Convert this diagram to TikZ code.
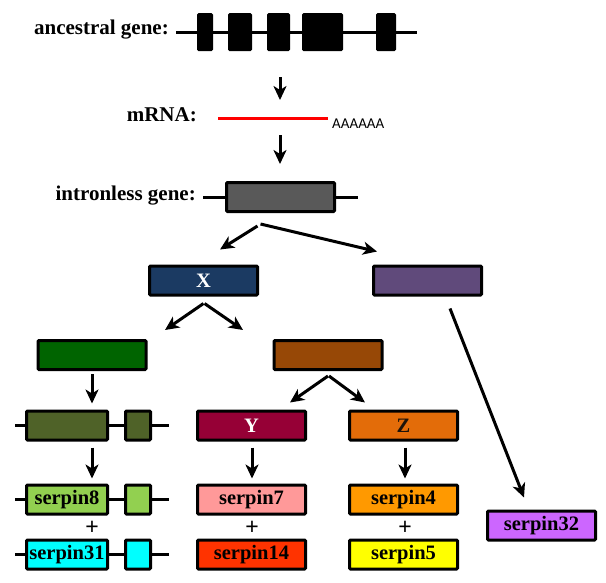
\documentclass[tikz,border=0pt]{standalone}
\usepackage{fontspec}
\setmainfont{Liberation Serif}
\newfontfamily\tailfont{Carlito}
\newfontfamily\plusfont{Liberation Sans}
\usetikzlibrary{arrows.meta,calc}

\definecolor{geneGray}{HTML}{595959}
\definecolor{xBlue}{HTML}{1B3A62}
\definecolor{purpleBox}{HTML}{604A7B}
\definecolor{greenBox}{HTML}{006400}
\definecolor{brownBox}{HTML}{974806}
\definecolor{oliveBox}{HTML}{4F6228}
\definecolor{yRed}{HTML}{960036}
\definecolor{zOrange}{HTML}{E36C09}
\definecolor{sEight}{HTML}{92D050}
\definecolor{sThirtyOne}{HTML}{00FFFF}
\definecolor{sSeven}{HTML}{FF9999}
\definecolor{sFour}{HTML}{FF9900}
\definecolor{sFourteen}{HTML}{FF3300}
\definecolor{sFive}{HTML}{FFFF00}
\definecolor{sThirtyTwo}{HTML}{CC66FF}

\begin{document}
\begin{tikzpicture}[x=1pt, y=-1pt,
  gbox/.style={draw=black, line width=3pt, rounded corners=1pt,
    minimum width=108pt, minimum height=29pt, inner sep=0pt,
    font=\bfseries\fontsize{20.5}{20.5}\selectfont},
  exon/.style={fill=black, rounded corners=1.5pt, minimum height=38pt, inner sep=0pt},
  strand/.style={line width=3pt},
  arr/.style={line width=3pt, -{Stealth[length=14pt,width=13pt,inset=4pt]}},
  lbl/.style={font=\bfseries\fontsize{21}{21}\selectfont, inner sep=0pt},
  plus/.style={font=\plusfont\fontsize{23}{23}\selectfont, inner sep=0pt}]
  \useasboundingbox (0,0) rectangle (606,582);

  % Rows (y of box centres)
  \def\rowX{280.5}
  \def\rowB{355}
  \def\rowC{425.5}
  \def\rowD{499.5}
  \def\rowE{554.5}

  % Ancestral gene with five exons
  \coordinate (ancL) at (176,32);
  \coordinate (ancR) at (417,32);
  \draw[strand] (ancL) -- (ancR);
  \foreach \n/\x/\w in {1/205/16, 2/240/24, 3/278.5/23, 4/322.5/41, 5/386/20}
    \node[exon, minimum width=\w pt] (ex\n) at (\x,32) {};
  \node[lbl, anchor=mid east] (ancT) at (169,32) {ancestral gene:};

  % mRNA
  \coordinate (mrnaL) at (218,118);
  \coordinate (mrnaR) at (328,118);
  \draw[red, line width=3pt] (mrnaL) -- (mrnaR);
  \node[lbl, anchor=mid east] (mrnaT) at (197,119) {mRNA:};
  \node[font=\tailfont\fontsize{15}{15}\selectfont, anchor=west, inner sep=0pt] (polyA) at (332,124) {AAAAAA};

  % Intronless gene
  \coordinate (intL) at (203,197.5);
  \coordinate (intR) at (358,197.5);
  \draw[strand] (intL) -- (intR);
  \node[gbox, fill=geneGray] (intr) at (280.5,197) {};
  \node[lbl, anchor=mid east] (intrT) at (196,198) {intronless gene:};

  \draw[arr] (280,77) coordinate (a1) -- (280,100) coordinate (a1e);
  \draw[arr] (280,135) coordinate (a2) -- (280,164) coordinate (a2e);

  % X and the purple copy
  \node[gbox, fill=xBlue, text=white] (X) at (203.5,\rowX) {X};
  \node[gbox, fill=purpleBox] (purp) at (427.5,\rowX) {};
  \draw[arr] ($(intr.south)+(-23,13)$) -- ($(X.north)+(16.5,-15)$);
  \draw[arr] ($(intr.south)+(-20,11)$) -- ($(purp.north)+(-50.5,-13)$);

  % green and brown
  \node[gbox, fill=greenBox] (green) at (92,\rowB) {};
  \node[gbox, fill=brownBox] (brown) at (328,\rowB) {};
  \draw[arr] ($(X.south)+(0,7)$) -- ($(green.north)+(73,-9)$);
  \draw[arr] ($(X.south)+(1,7)$) -- ($(brown.north)+(-85,-9)$);

  % gene with intron
  \coordinate (olL) at (15,425.5);
  \coordinate (olR) at (169,425.5);
  \draw[strand] (olL) -- (olR);
  \node[gbox, fill=oliveBox, minimum width=81pt] (ol1) at (67,\rowC) {};
  \node[gbox, fill=oliveBox, minimum width=25pt] (ol2) at (138,\rowC) {};
  \draw[arr] ($(green.south)+(0,3)$) -- ($(ol1.north -| green.south)+(0,-6)$);

  % Y and Z
  \node[gbox, fill=yRed, text=white] (Y) at (251.5,\rowC) {Y};
  \node[gbox, fill=zOrange, text=black!85!brown] (Z) at (403.5,\rowC) {Z};
  \draw[arr] ($(brown.south)+(0,5)$) -- ($(Y.north)+(38.5,-7)$);
  \draw[arr] ($(brown.south)+(1,5)$) -- ($(Z.north)+(-38.5,-7)$);

  % serpin8 / serpin31 genes
  \foreach \nm/\y/\c/\t in {s8/\rowD/sEight/serpin8, s31/\rowE/sThirtyOne/serpin31} {
    \coordinate (\nm L) at (15,\y);
    \coordinate (\nm R) at (169,\y);
    \draw[strand] (\nm L) -- (\nm R);
    \node[gbox, fill=\c, minimum width=81pt] (\nm) at (67,\y) {\t};
    \node[gbox, fill=\c, minimum width=25pt] (\nm b) at (138,\y) {};
  }
  \draw[arr] ($(ol1.south -| green.south)+(0,6)$) -- ($(s8.north -| green.south)+(0,-5)$);

  % serpin7 / serpin14, serpin4 / serpin5
  \node[gbox, fill=sSeven] (s7) at (251.5,\rowD) {serpin7};
  \node[gbox, fill=sFourteen] (s14) at (251.5,\rowE) {serpin14};
  \node[gbox, fill=sFour] (s4) at (403.5,\rowD) {serpin4};
  \node[gbox, fill=sFive] (s5) at (403.5,\rowE) {serpin5};
  \draw[arr] ($(Y.south)+(0.5,6)$) -- ($(s7.north)+(0.5,-5)$);
  \draw[arr] ($(Z.south)+(1.5,6)$) -- ($(s4.north)+(1.5,-5)$);

  % plus signs
  \node[plus] (p1) at (92,528) {+};
  \node[plus] (p2) at (252,528) {+};
  \node[plus] (p3) at (405,528) {+};

  % serpin32
  \node[gbox, fill=sThirtyTwo] (s32) at (541.5,525.5) {serpin32};
  \draw[arr] ($(purp.south)+(22.5,12)$) -- ($(s32.north)+(-17.5,-12)$);
\end{tikzpicture}
\end{document}
